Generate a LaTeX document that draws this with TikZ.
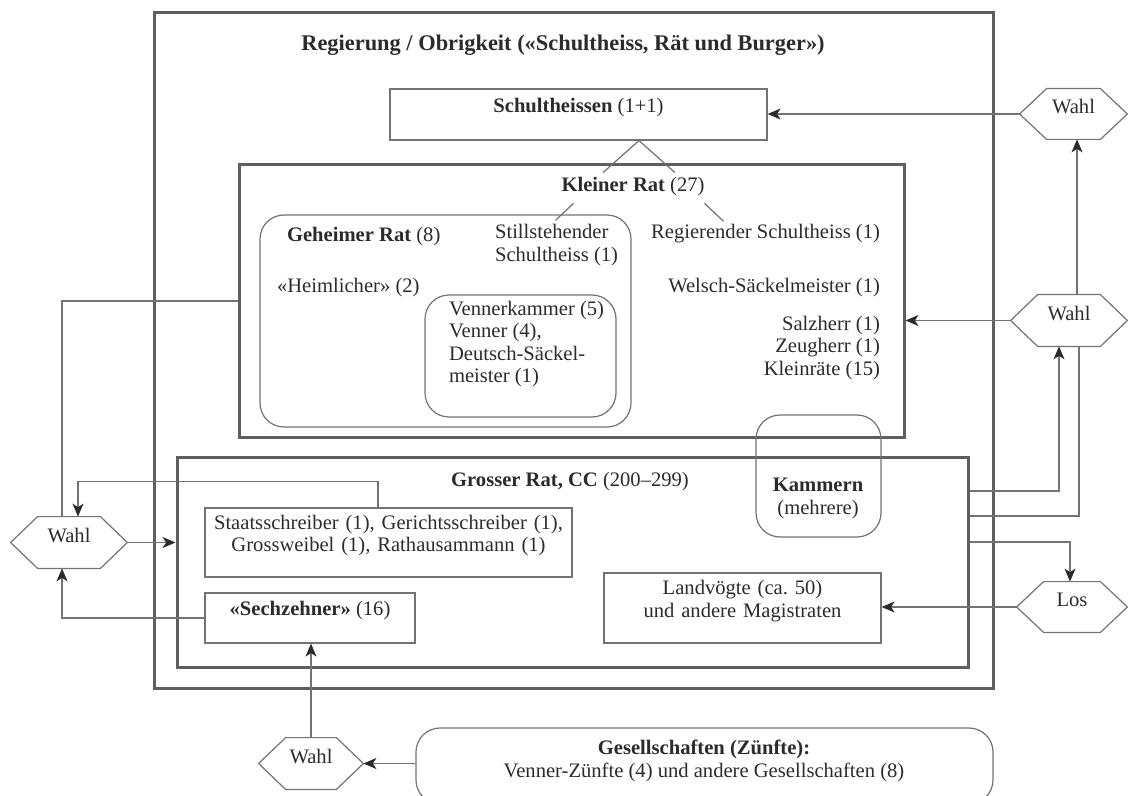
\documentclass[tikz,border=0pt]{standalone}
\usepackage{fontspec}
\setmainfont{Liberation Serif}
\usetikzlibrary{arrows.meta,fit,calc}
\definecolor{frame}{HTML}{5E5E5E}
\definecolor{thin}{HTML}{737373}
\definecolor{ink}{HTML}{2B2B2B}
\begin{document}
\begin{tikzpicture}[x=0.5pt,y=-0.5pt,
  every node/.style={font=\fontsize{10.3}{11.3}\selectfont, text=ink},
  heavy/.style={draw=frame, line width=1.5pt, inner sep=0pt},
  lightbox/.style={draw=thin, line width=0.6pt, inner sep=0pt},
  roundbox/.style={lightbox, rounded corners=12pt},
  hexcore/.style={inner sep=0pt},
  conn/.style={draw=thin, line width=0.6pt},
  arr/.style={conn, -{Stealth[length=6.5pt,width=5.5pt,inset=1.8pt,color=ink]}},
  titlefont/.style={font=\fontsize{11.2}{13}\selectfont\bfseries}
]
\useasboundingbox (0,0) rectangle (1128,796);

% outer frame
\node[heavy, fit={(154,13)(993,688)}] (reg) {};
\node[titlefont] (regt) at (563,45) {Regierung / Obrigkeit («Schultheiss, Rät und Burger»)};
\node[lightbox, fit={(390,89)(767,140)}] (sch) {\textbf{Schultheissen} (1+1)};

% Kleiner Rat
\node[heavy, fit={(239,165)(904,437)}] (kr) {};
\node (krt) at (633,187) {\textbf{Kleiner Rat} (27)};
\node[roundbox, fit={(260,215)(631,427)}] (geh) {};
\node[anchor=west] (geht) at (280,237) {\textbf{Geheimer Rat} (8)};
\node[anchor=west, align=left] (still) at (488,245) {Stillstehender\\Schultheiss (1)};
\node[anchor=east] (regs) at (887,234) {Regierender Schultheiss (1)};
\node[anchor=west] (heim) at (270,288) {«Heimlicher» (2)};
\node[anchor=east] (welsch) at (887,288) {Welsch-Säckelmeister (1)};
\node[roundbox, fit={(425,295)(616,417)}] (vk) {};
\node[anchor=west, align=left] (vkt) at (442,344) {Vennerkammer (5)\\Venner (4),\\Deutsch-Säckel-\\meister (1)};
\node[anchor=east, align=right] (kl) at (887,348) {Salzherr (1)\\Zeugherr (1)\\Kleinräte (15)};

% Grosser Rat
\node[heavy, fit={(177,457)(968,667)}] (gr) {};
\node (grt) at (570,482) {\textbf{Grosser Rat, CC} (200–299)};
\node[roundbox, fit={(756,415)(881,537)}] (kam) {};
\node[align=center] (kamt) at (818,498.5) {\textbf{Kammern}\\(mehrere)};
\node[lightbox, fit={(205,508)(572,577)}, align=center] (st) {Staatsschreiber (1), Gerichtsschreiber (1),\\Grossweibel (1), Rathausammann (1)};
\node[lightbox, fit={(205,593)(415,643)}] (sz) {\textbf{«Sechzehner»} (16)};
\node[lightbox, fit={(604,573)(881,643)}, align=center] (lv) {Landvögte (ca.~50)\\und andere Magistraten};

% Gesellschaften
\node[roundbox, fit={(416,728)(993,804)}] (gs) {};
\node[align=center] (gst) at (704,761) {\textbf{Gesellschaften (Zünfte):}\\Venner-Zünfte (4) und andere Gesellschaften (8)};

% hexagons
\node[hexcore, fit={(11,517)(127,568)}] (wl) {Wahl};
\node[hexcore, fit={(1020,89)(1127,139)}] (wt) {Wahl};
\node[hexcore, fit={(1011,295)(1127,346)}] (wm) {Wahl};
\node[hexcore, fit={(1017,582)(1127,632)}] (los) {Los};
\node[hexcore, fit={(259,738)(363,789)}] (wb) {Wahl};
\foreach \h in {wl,wt,wm,los,wb}
  \draw[conn] (\h.west) -- ([xshift=13.5pt]\h.north west) -- ([xshift=-13.5pt]\h.north east)
    -- (\h.east) -- ([xshift=-13.5pt]\h.south east) -- ([xshift=13.5pt]\h.south west) -- cycle;

% decorative lines
\draw[conn] ([xshift=30.25pt]sch.south) -- ++(-36,32);
\draw[conn] ([xshift=30.25pt]sch.south) -- ++(36,32);
\draw[conn] ([xshift=9.5pt]krt.south west) -- ++(-18,17);
\draw[conn] ([xshift=-3.5pt]krt.south east) -- ++(19,18);

% connectors
\draw[arr] (wt.west) -- (wt.west -| sch.east);
\draw[arr] (wm.west) -- (wm.west -| kr.east);
\draw[arr] ([xshift=4pt]wm.north) -- ([xshift=4pt]wm.north |- wt.south);
\draw[arr] ([yshift=35.5pt]gr.east) -| ([xshift=-5pt]wm.south);
\draw[conn] ([yshift=23pt]gr.east) -| ([xshift=5pt]wm.south);
\draw[arr] ([yshift=10pt]gr.east) -| ([xshift=-1pt]los.north);
\draw[arr] (los.west) -- (los.west -| lv.east);
\draw[arr] (wb.east -| gs.west) -- (wb.east);
\draw[arr] (wb.north) -- (wb.north |- sz.south);
\draw[arr] (sz.west) -| ([xshift=-3.5pt]wl.south);
\draw[conn] (kr.west) -| ([xshift=-3.5pt]wl.north);
\draw[arr] ([xshift=-5.25pt]st.north) -- ++(0,-26) -| ([xshift=4.5pt]wl.north);
\draw[arr] (wl.east) -- (wl.east -| gr.west);
\end{tikzpicture}
\end{document}
